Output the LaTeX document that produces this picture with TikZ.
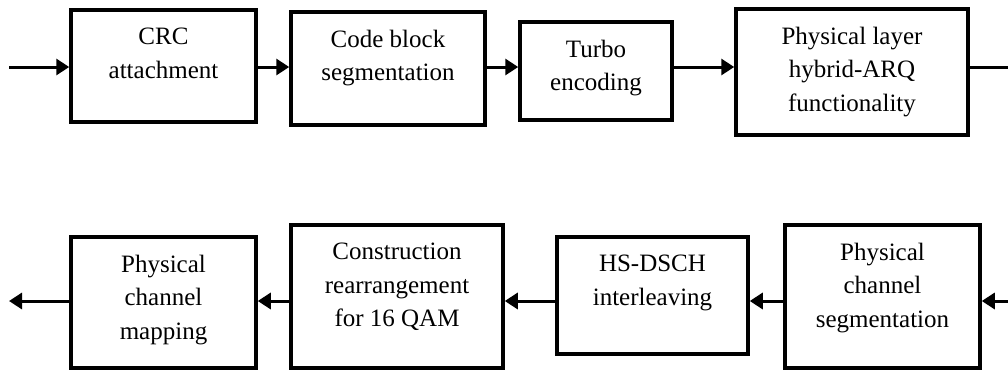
\documentclass[tikz,border=0pt]{standalone}
\usepackage{fontspec}
\setmainfont{Liberation Serif}
\usetikzlibrary{arrows.meta,positioning}

\begin{document}
\begin{tikzpicture}[x=1pt,y=-1pt,
    blk/.style={draw,rectangle,line width=3.5pt},
    blktxt/.style={anchor=north,align=center,inner sep=0pt,yshift=-19.5pt,
                   font=\fontsize{25}{33.5}\selectfont},
    flow/.style={line width=3pt,-{Triangle[length=13pt,width=16pt]}},
    flowend/.style={line width=3pt}]
  \useasboundingbox (0,0) rectangle (1008,370);

  \coordinate (in)   at (9,67);      % input of top row
  \coordinate (out)  at (1008,67);   % top row leaves on the right
  \coordinate (in2)  at (1008,301);  % bottom row comes in on the right
  \coordinate (out2) at (9,301);     % output of bottom row

  % top row
  \node[blk,minimum width=185pt,minimum height=112pt,
        label={[blktxt]north:CRC\\attachment}] (crc) at (163.5,66) {};
  \node[blk,minimum width=194pt,minimum height=113pt,
        label={[blktxt]north:Code block\\segmentation}] (cbs) at (388,68.5) {};
  \node[blk,minimum width=152pt,minimum height=98pt,
        label={[blktxt]north:Turbo\\encoding}] (turbo) at (596,71) {};
  \node[blk,minimum width=232pt,minimum height=126pt,
        label={[blktxt]north:Physical layer\\hybrid-ARQ\\functionality}] (harq) at (852,72) {};

  % bottom row
  \node[blk,minimum width=195pt,minimum height=143pt,
        label={[blktxt]north:Physical\\channel\\segmentation}] (pcs) at (882.5,296.5) {};
  \node[blk,minimum width=191pt,minimum height=117pt,
        label={[blktxt]north:HS-DSCH\\interleaving}] (intl) at (652.5,295.5) {};
  \node[blk,minimum width=212pt,minimum height=143pt,
        label={[blktxt]north:Construction\\rearrangement\\for 16 QAM}] (qam) at (397,296.5) {};
  \node[blk,minimum width=185pt,minimum height=131pt,
        label={[blktxt]north:Physical\\channel\\mapping}] (pcm) at (163.5,302.5) {};

  % arrows, top row
  \draw[flow] (in) -- (crc.west |- in);
  \draw[flow] (crc.east |- in) -- (cbs.west |- in);
  \draw[flow] (cbs.east |- in) -- (turbo.west |- in);
  \draw[flow] (turbo.east |- in) -- (harq.west |- in);
  \draw[flowend] (harq.east |- out) -- (out);

  % arrows, bottom row
  \draw[flow] (in2) -- (pcs.east |- in2);
  \draw[flow] (pcs.west |- in2) -- (intl.east |- in2);
  \draw[flow] (intl.west |- in2) -- (qam.east |- in2);
  \draw[flow] (qam.west |- in2) -- (pcm.east |- in2);
  \draw[flow] (pcm.west |- out2) -- (out2);
\end{tikzpicture}
\end{document}
